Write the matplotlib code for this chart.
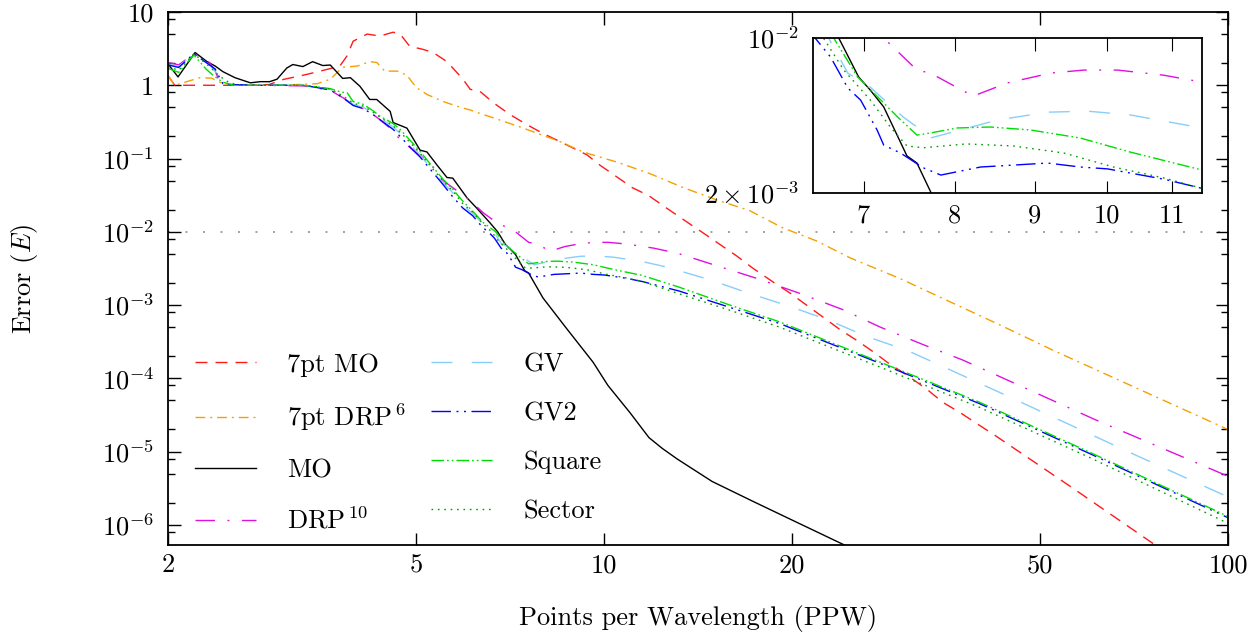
import numpy as np
import matplotlib
matplotlib.use("Agg")
import matplotlib.pyplot as plt
from matplotlib.ticker import FixedLocator, FuncFormatter, LogLocator, NullFormatter, NullLocator

plt.rcParams["font.family"] = "serif"
plt.rcParams["font.serif"] = ["cmr10"]
plt.rcParams["mathtext.fontset"] = "cm"
plt.rcParams["axes.formatter.use_mathtext"] = True

# ---- data (PPW, error) ----
mo7_x = [2.0, 2.05, 2.5, 2.9, 3.06, 3.34, 3.6, 3.77, 3.87, 3.96, 4.17, 4.37, 4.59, 4.71, 4.88, 5.12, 5.32, 5.6,
         5.94, 6.1, 6.32, 6.64, 7.06, 7.52, 7.98, 8.5, 9.39, 9.85, 11.1, 11.8, 12.6, 13.7, 14.4, 15.3, 16.3, 17.3,
         18.6, 19.9, 21.1, 22.4, 23.9, 25.4, 27.0, 28.7, 30.6, 32.9, 34.9, 37.2, 42.6, 56.0, 77.2, 100]
mo7_y = [1.35, 1.0, 1.0, 1.02, 1.2, 1.41, 1.65, 1.83, 2.5, 4.0, 5.0, 4.7, 5.3, 5.0, 3.4, 3.1, 2.8, 2.1,
         1.21, 0.88, 0.83, 0.58, 0.40, 0.29, 0.22, 0.17, 0.112, 0.081, 0.040, 0.031, 0.021, 0.0129, 0.0097, 0.0068,
         0.0047, 0.0032, 0.0021, 0.00144, 0.0010, 6.9e-4, 4.6e-4, 3.3e-4, 2.3e-4, 1.56e-4, 1.1e-4, 7.1e-5, 4.7e-5,
         3.4e-5, 1.6e-5, 3.3e-6, 5e-7, 1.2e-7]

drp6_x = [2.0, 2.05, 2.25, 2.35, 2.45, 2.6, 3.0, 3.47, 3.64, 3.81, 4.02, 4.21, 4.32, 4.45, 4.66, 4.83, 5.0, 5.2,
          5.52, 5.88, 6.1, 6.39, 6.64, 7.33, 8.5, 9.25, 10.5, 11.8, 13.4, 15.2, 17.1, 19.3, 21.9, 24.8, 29.8, 42.6,
          52.5, 100]
drp6_y = [1.35, 1.0, 1.27, 1.25, 1.05, 1.0, 1.0, 1.05, 1.21, 1.76, 1.83, 2.1, 2.05, 1.56, 1.56, 1.37, 0.93, 0.75,
          0.60, 0.50, 0.46, 0.40, 0.36, 0.27, 0.17, 0.123, 0.089, 0.063, 0.040, 0.027, 0.0195, 0.0114, 0.0075, 0.0044,
          0.0023, 5.6e-4, 2.4e-4, 2.0e-5]

mo_x = [2.0, 2.075, 2.21, 2.31, 2.38, 2.45, 2.56, 2.71, 2.81, 2.91, 2.99, 3.10, 3.17, 3.29, 3.41, 3.54, 3.64, 3.81,
        3.92, 4.06, 4.21, 4.32, 4.54, 4.59, 4.83, 5.07, 5.20, 5.40, 5.60, 5.72, 6.03, 6.25, 6.56, 6.75, 6.95, 7.07,
        7.21, 7.46, 7.57, 7.73, 7.98, 8.72, 9.60, 10.14, 11.0, 11.8, 12.4, 13.1, 14.9, 17.3, 20.1, 25.0, 27.0]
mo_y = [1.95, 1.3, 2.8, 2.1, 1.83, 1.53, 1.27, 1.08, 1.12, 1.12, 1.21, 1.72, 1.92, 1.8, 2.1, 1.86, 1.89, 1.24,
        1.27, 0.97, 0.64, 0.64, 0.44, 0.31, 0.26, 0.13, 0.123, 0.081, 0.055, 0.054, 0.029, 0.021, 0.0133, 0.0100,
        0.00667, 0.00582, 0.00489, 0.00294, 0.00273, 0.0020, 0.00125, 4.7e-4, 1.66e-4, 8e-5, 3.4e-5, 1.55e-5,
        1.1e-5, 7.9e-6, 3.9e-6, 2.1e-6, 1.14e-6, 4.7e-7, 3.6e-7]

drp10_x = [2.0, 2.08, 2.2, 2.33, 2.38, 2.42, 2.5, 2.8, 3.29, 3.47, 3.64, 3.81, 3.96, 4.11, 4.26, 4.37, 4.59, 4.71,
           4.94, 5.26, 5.52, 5.72, 6.03, 6.41, 6.73, 7.06, 7.21, 7.57, 7.72, 8.22, 8.64, 9.21, 9.67, 10.16, 10.87,
           11.98, 13.1, 14.9, 17.6, 20.6, 24.1, 27.7, 32.4, 37.6, 42.6, 61.4, 100]
drp10_y = [2.05, 1.9, 2.7, 2.05, 1.56, 1.1, 1.0, 1.0, 0.98, 0.92, 0.85, 0.68, 0.54, 0.48, 0.40, 0.34, 0.24, 0.18,
           0.131, 0.087, 0.05, 0.04, 0.029, 0.018, 0.0133, 0.011, 0.0100, 0.00717, 0.00695, 0.00547, 0.00627,
           0.00695, 0.00717, 0.00717, 0.0068, 0.006, 0.0051, 0.0036, 0.0023, 0.00144, 8.7e-4, 5.0e-4, 2.9e-4,
           1.77e-4, 1.1e-4, 2.7e-5, 4.6e-6]

gv_x = [2.0, 2.08, 2.2, 2.33, 2.42, 2.5, 2.8, 3.29, 3.47, 3.64, 3.81, 3.96, 4.11, 4.26, 4.37, 4.59, 4.71, 4.94,
        5.07, 5.26, 5.52, 5.72, 5.94, 6.16, 6.39, 6.65, 6.84, 7.07, 7.25, 7.42, 7.57, 7.72, 8.07, 8.52, 9.17, 9.72,
        10.35, 11.5, 12.6, 14.8, 17.1, 19.9, 22.8, 26.4, 30.6, 34.9, 45.2, 71.4, 100]
gv_y = [1.95, 1.8, 2.7, 1.9, 1.3, 1.02, 1.0, 1.0, 0.94, 0.88, 0.70, 0.55, 0.50, 0.42, 0.36, 0.27, 0.22, 0.14,
        0.112, 0.076, 0.047, 0.034, 0.0228, 0.0177, 0.0129, 0.0100, 0.00695, 0.0060, 0.0051, 0.0044, 0.00397,
        0.00354, 0.00385, 0.00427, 0.00463, 0.00468, 0.0045, 0.00393, 0.0033, 0.0022, 0.00144, 9.5e-4, 6.3e-4,
        3.7e-4, 2.4e-4, 1.45e-4, 5.3e-5, 8.8e-6, 2.4e-6]

gv2_x = [2.0, 2.08, 2.2, 2.33, 2.38, 2.45, 2.8, 3.29, 3.47, 3.64, 3.81, 3.96, 4.11, 4.26, 4.37, 4.59, 4.71, 4.94,
         5.07, 5.26, 5.52, 5.72, 5.94, 6.16, 6.39, 6.52, 6.67, 6.84, 6.97, 7.14, 7.21, 7.39, 7.64, 7.84, 8.31, 9.17,
         9.62, 10.01, 10.87, 11.5, 13.2, 15.9, 19.1, 27.7, 40, 60, 100]
gv2_y = [1.9, 1.75, 2.7, 1.9, 1.67, 1.03, 1.0, 1.0, 0.93, 0.86, 0.68, 0.53, 0.48, 0.40, 0.34, 0.25, 0.20, 0.13,
         0.105, 0.072, 0.044, 0.030, 0.021, 0.0165, 0.0114, 0.0100, 0.0082, 0.00595, 0.00525, 0.00385, 0.00329,
         0.00303, 0.0026, 0.00241, 0.00262, 0.00273, 0.00262, 0.00257, 0.00231, 0.0021, 0.00155, 9.3e-4, 5.6e-4,
         1.6e-4, 4.5e-5, 9.4e-6, 1.25e-6]

square_x = [2.0, 2.08, 2.2, 2.3, 2.37, 2.45, 2.55, 2.8, 3.29, 3.47, 3.64, 3.8, 3.87, 3.96, 4.11, 4.26, 4.37, 4.59,
            4.71, 4.94, 5.07, 5.26, 5.52, 5.72, 5.94, 6.16, 6.39, 6.7, 6.94, 7.18, 7.36, 7.57, 7.72, 8.03, 8.43,
            8.94, 9.62, 10.35, 11.5, 13.2, 15.9, 19.1, 27.7, 40, 60, 100]
square_y = [1.7, 1.5, 2.6, 1.67, 1.33, 1.1, 1.0, 1.0, 1.0, 0.95, 0.9, 0.8, 0.8, 0.6, 0.55, 0.45, 0.38, 0.30,
            0.25, 0.16, 0.125, 0.085, 0.052, 0.038, 0.026, 0.019, 0.0135, 0.0100, 0.00667, 0.00525, 0.0044, 0.00365,
            0.00373, 0.00393, 0.00397, 0.00385, 0.00354, 0.00306, 0.00254, 0.00175, 1.0e-3, 5.9e-4, 1.66e-4, 4.7e-5,
            9.8e-6, 1.3e-6]

sector_x = [2.0, 2.08, 2.2, 2.33, 2.42, 2.5, 2.6, 2.8, 3.29, 3.47, 3.64, 3.81, 3.96, 4.11, 4.26, 4.37, 4.59, 4.71,
            4.94, 5.07, 5.26, 5.52, 5.72, 5.94, 6.16, 6.39, 6.6, 6.8, 7.07, 7.28, 7.46, 7.64, 8.14, 8.72, 9.39, 10.1,
            10.87, 11.5, 13.2, 15.9, 19.1, 27.7, 40, 60, 100]
sector_y = [1.8, 1.6, 2.7, 1.8, 1.33, 1.1, 1.0, 1.0, 1.0, 0.95, 0.89, 0.72, 0.57, 0.52, 0.43, 0.37, 0.28, 0.23,
            0.15, 0.118, 0.08, 0.049, 0.036, 0.024, 0.0185, 0.013, 0.0100, 0.00717, 0.00525, 0.00397, 0.00326,
            0.0032, 0.00333, 0.00326, 0.00303, 0.00262, 0.00234, 0.0021, 0.00142, 8.5e-4, 5.0e-4, 1.42e-4, 4.0e-5,
            8.3e-6, 1.05e-6]

labels = ["7pt MO", r"7pt DRP$^{\,6}$", "MO", r"DRP$^{\,10}$", "GV", "GV2", "Square", "Sector"]
series = [(mo7_x, mo7_y), (drp6_x, drp6_y), (mo_x, mo_y), (drp10_x, drp10_y),
          (gv_x, gv_y), (gv2_x, gv2_y), (square_x, square_y), (sector_x, sector_y)]

styles = [
    dict(color="#ff1a1a", ls=(0, (8.6, 5.8))),
    dict(color="#f5a000", ls=(0, (7, 3.6, 1.4, 3.6))),
    dict(color="black", ls="-"),
    dict(color="#e010e0", ls=(0, (14, 9, 1.4, 9))),
    dict(color="#87cefa", ls=(0, (15, 14))),
    dict(color="#0000ff", ls=(0, (14, 4, 1.4, 4, 1.4, 4))),
    dict(color="#00dd00", ls=(0, (9, 2.2, 1.2, 2.2, 1.2, 2.2))),
    dict(color="#00a000", ls=(0, (1.2, 3.4))),
]

fs = 19

fig = plt.figure(figsize=(12.57, 6.36), dpi=100)
ax = fig.add_axes([0.1337, 0.1431, 0.8432, 0.8380])

for (x, y), lab, st in zip(series, labels, styles):
    ax.plot(x, y, lw=1.0, label=lab, **st)
ax.axhline(1e-2, color="#a0a0a0", lw=1.4, ls=(0, (1, 8)), zorder=0)

ax.set_xscale("log")
ax.set_yscale("log")
ax.set_xlim(2, 100)
ax.set_ylim(5.3e-7, 10)

ax.xaxis.set_major_locator(FixedLocator([2, 5, 10, 20, 50, 100]))
ax.xaxis.set_major_formatter(FuncFormatter(lambda v, p: "%d" % round(v)))
ax.xaxis.set_minor_locator(NullLocator())


def ylab(v, p):
    e = int(round(np.log10(v)))
    if e == 1:
        return "10"
    if e == 0:
        return "1"
    return r"$10^{%d}$" % e


ax.yaxis.set_major_locator(FixedLocator([1e-6, 1e-5, 1e-4, 1e-3, 1e-2, 1e-1, 1, 10]))
ax.yaxis.set_major_formatter(FuncFormatter(ylab))
ax.yaxis.set_minor_locator(LogLocator(base=10, subs=(2, 5, 8)))
ax.yaxis.set_minor_formatter(NullFormatter())
ax.tick_params(which="both", direction="in", top=True, right=True, labelsize=fs, width=1.0)
ax.tick_params(which="major", length=9, pad=10)
ax.tick_params(axis="x", which="major", pad=6)
ax.tick_params(which="minor", length=5)
for s in ax.spines.values():
    s.set_linewidth(1.3)

ax.set_xlabel("Points per Wavelength (PPW)", fontsize=fs, labelpad=20)
ax.set_ylabel(r"Error ($E$)", fontsize=fs, labelpad=44)

ax.legend(loc="upper left", bbox_to_anchor=(0.003, 0.405), ncol=2, frameon=False, fontsize=19,
          handlelength=2.3, handletextpad=1.2, columnspacing=0.95, labelspacing=0.95)

# inset zoom
ins = fig.add_axes([0.6468, 0.6965, 0.3095, 0.2437], facecolor="white")
for (x, y), st in zip(series, styles):
    ins.plot(x, y, lw=1.0, **st)
ins.set_xscale("log")
ins.set_yscale("log")
ins.set_xlim(6.5, 11.5)
ins.set_ylim(2e-3, 1e-2)
ins.xaxis.set_major_locator(FixedLocator([7, 8, 9, 10, 11]))
ins.xaxis.set_major_formatter(FuncFormatter(lambda v, p: "%d" % round(v)))
ins.xaxis.set_minor_locator(NullLocator())
ins.yaxis.set_major_locator(FixedLocator([2e-3, 1e-2]))
ins.yaxis.set_major_formatter(FuncFormatter(lambda v, p: r"$10^{-2}$" if v > 5e-3 else r"$2\times10^{-3}$"))
ins.yaxis.set_minor_locator(NullLocator())
ins.tick_params(axis="x", which="major", direction="in", top=True, length=9, pad=8, labelsize=fs)
ins.tick_params(axis="y", which="major", length=0, pad=10, labelsize=fs)
for s in ins.spines.values():
    s.set_linewidth(1.3)

fig.savefig("out.png", dpi=100)
